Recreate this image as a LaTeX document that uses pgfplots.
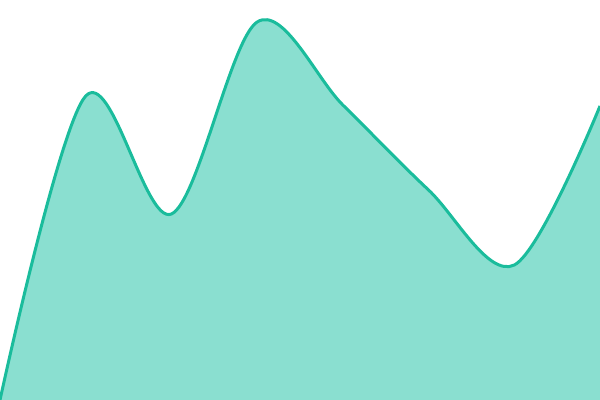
\documentclass[border=0pt]{standalone}
\usepackage{pgfplots}
\usepackage{pgfplotstable}
\pgfplotsset{compat=1.18}
\definecolor{turq}{HTML}{1ABC9C}
\definecolor{turqfill}{HTML}{8ADFD0}
\pgfplotstableread{
x y
0 0
1 304
2 186
3 378
4 295
5 210
6 135
7 294
}\datatable
\begin{document}
\begin{tikzpicture}
\begin{axis}[
    width=600bp, height=400bp,
    scale only axis,
    hide axis,
    clip=true,
    xmin=0, xmax=7,
    ymin=0, ymax=400,
]
\addplot [smooth, tension=0.55, draw=none, fill=turqfill] table {\datatable} \closedcycle;
\addplot [smooth, tension=0.55, draw=turq, line width=3bp] table {\datatable};
\end{axis}
\pgfresetboundingbox
\path (current axis.south west) rectangle (current axis.north east);
\end{tikzpicture}
\end{document}
